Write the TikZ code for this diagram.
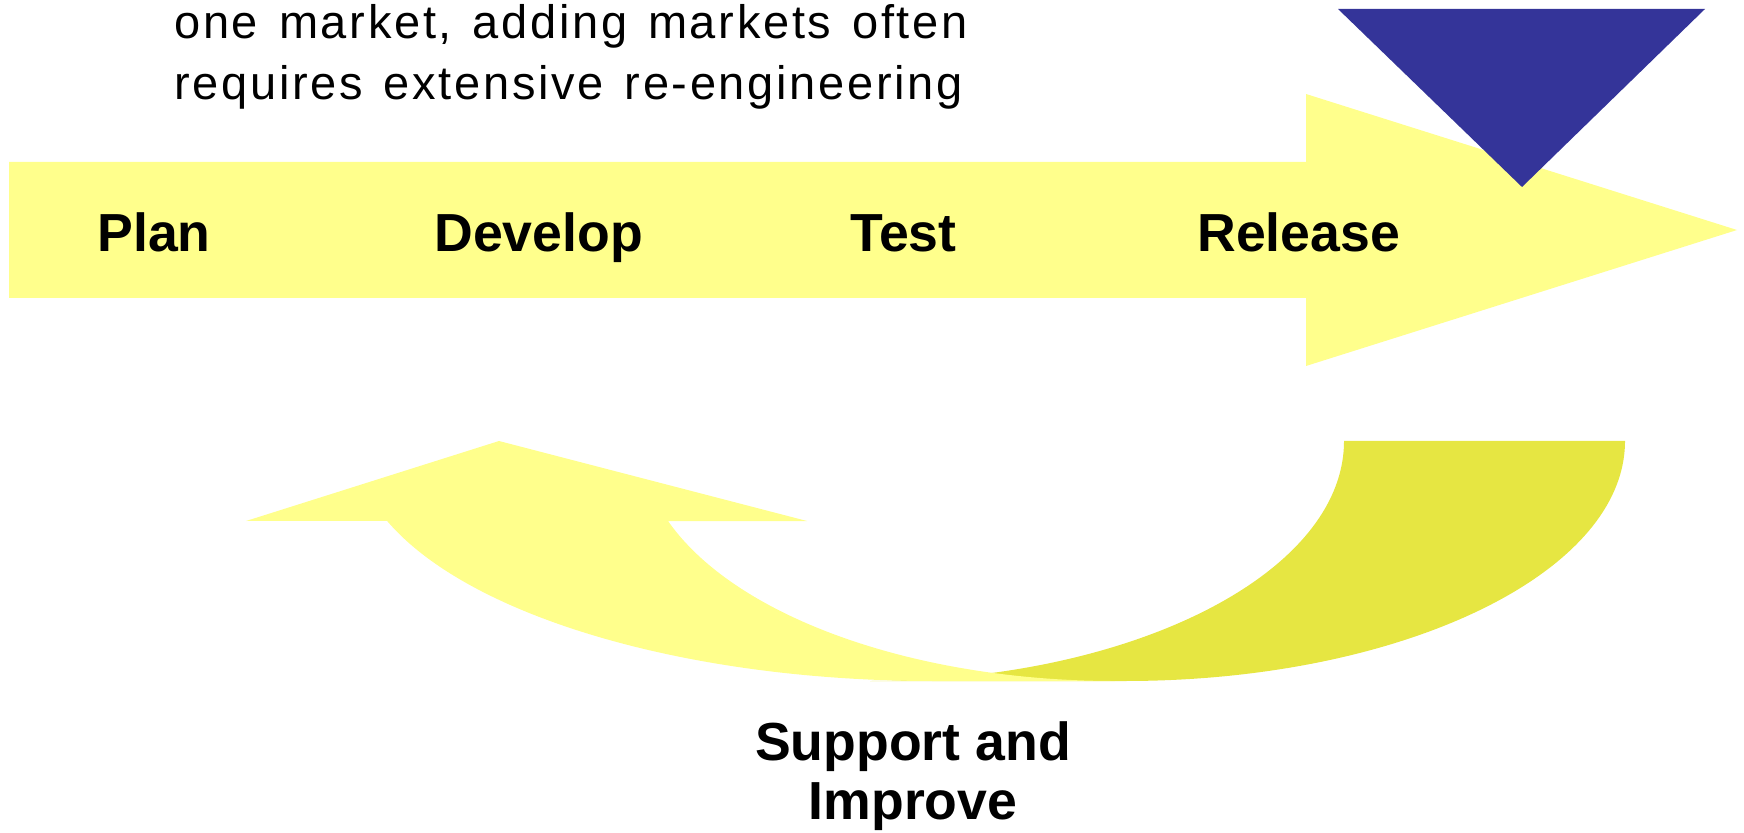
\documentclass[tikz,border=0pt]{standalone}
\usepackage{fontspec}
\setmainfont{Liberation Sans}
\newfontfamily\notefont[LetterSpace=5.7,WordSpace=1.33]{Liberation Sans}
\definecolor{armyellow}{HTML}{FFFF8C}
\definecolor{backyellow}{HTML}{E6E642}
\definecolor{markblue}{HTML}{343499}
\begin{document}
\begin{tikzpicture}[x=0.5pt,y=0.5pt]
\tikzstyle{every node}+=[inner sep=0pt]
\tikzstyle{phase}=[anchor=base west,font=\fontsize{26.8}{26.8}\selectfont\bfseries]
\useasboundingbox (0,0) rectangle (1744,-833);
\fill [armyellow] (9,-162) -- (1306,-162) -- (1306,-94) -- (1737,-230) -- (1306,-366) -- (1306,-298) -- (9,-298) -- cycle;
\fill [markblue] (1338,-9) -- (1705,-9) -- (1522,-187) -- cycle;
\fill [backyellow] (1344,-441) -- (1625,-441) arc (0:-90:500 and 240) -- (870,-681) arc (-90:0:474 and 240) -- cycle;
\fill [armyellow] (246,-521) -- (499,-441) -- (807,-521) -- (668,-521) arc (199.47:270:474 and 240) -- (933,-681) arc (270:199.47:579 and 240) -- cycle;
\draw (174,-100) node [anchor=base west,align=left,font=\notefont\fontsize{23.5}{30.5}\selectfont] (note) {one market, adding markets often\\requires extensive re-engineering};
\draw (97,-252) node [phase] (plan) {Plan};
\draw (434,-252) node [phase] (develop) {Develop};
\draw (850,-252) node [phase] (test) {Test};
\draw (1197,-252) node [phase] (release) {Release};
\draw (913,-819) node [anchor=base,align=center,font=\fontsize{26.8}{29.5}\selectfont\bfseries] (support) {Support and\\Improve};
\end{tikzpicture}
\end{document}
